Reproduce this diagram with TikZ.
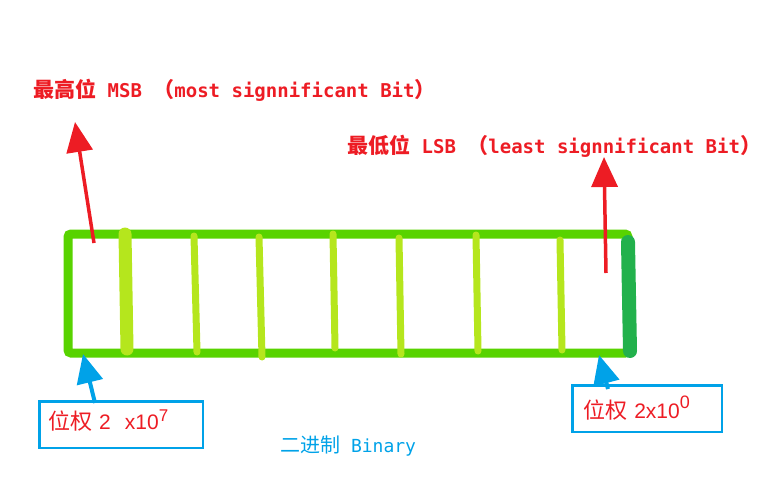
\documentclass[tikz,border=0pt]{standalone}
\usepackage{fontspec}
\setmonofont{DejaVu Sans Mono}
\newfontfamily\cjkfont{Noto Sans CJK SC}
\newfontfamily\numfont{Liberation Sans}
\usetikzlibrary{arrows.meta}
\definecolor{bargreen}{RGB}{88,211,0}
\definecolor{bitgreen}{RGB}{181,230,29}
\definecolor{lsbgreen}{RGB}{34,177,76}
\definecolor{markred}{RGB}{237,28,36}
\definecolor{markblue}{RGB}{0,162,232}

\begin{document}
\begin{tikzpicture}[x=1pt,y=-1pt]
        \tikzstyle{bar} = [draw=bargreen, line width=9pt, rounded corners=3pt]
        \tikzstyle{bit} = [draw=bitgreen, line width=7pt, line cap=round]
        \tikzstyle{bitlabel} = [text=markred, font=\ttfamily\bfseries\fontsize{19}{19}\selectfont, inner sep=0pt, anchor=base west]
        \tikzstyle{weightbox} = [draw=markblue, line width=2.5pt, minimum height=46.5pt, text=markred, font=\numfont\fontsize{21}{21}\selectfont, align=left, anchor=north west]
        \tikzstyle{redarrow} = [draw=markred, line width=3.5pt, -{Triangle[length=30pt,width=26pt]}]
        \tikzstyle{bluearrow} = [draw=markblue, line width=4pt, -{Triangle[length=29pt,width=26pt]}]

		\useasboundingbox (0,0) rectangle (782,487);

		\draw[bar] (68,234) rectangle (628,353);
		\draw[bit, line width=13pt] (125,234) -- (127,349);
		\draw[bit] (194,236) -- (197,352);
		\draw[bit] (259,237) -- (262,357);
		\draw[bit] (333,234) -- (335,348);
		\draw[bit] (399,238) -- (401,354);
		\draw[bit] (476,235) -- (478,351);
		\draw[bit] (560,240) -- (562,350);
		\draw[bit, draw=lsbgreen, line width=14pt] (628,242) -- (630,351);

		\node[bitlabel] (msb) at (33,97) {{\cjkfont\fontsize{21}{21}\selectfont 最高位} MSB {\cjkfont\fontsize{21}{21}\selectfont （}most signnificant Bit{\cjkfont\fontsize{21}{21}\selectfont ）}};
		\node[bitlabel] (lsb) at (347,153) {{\cjkfont\fontsize{21}{21}\selectfont 最低位} LSB {\cjkfont\fontsize{21}{21}\selectfont （}least signnificant Bit{\cjkfont\fontsize{21}{21}\selectfont ）}};

		\node[weightbox, minimum width=163.5pt, text width=146pt, inner xsep=8.75pt, text height=12pt, text depth=3pt] (msbweight) at (38.25,400.25) {{\cjkfont\fontsize{22}{22}\selectfont 位权} 2 \ x10\raisebox{8pt}{\fontsize{17}{17}\selectfont 7}};
		\node[weightbox, minimum width=149.5pt, text width=128pt, inner xsep=10.75pt, text height=21pt, text depth=2pt] (lsbweight) at (571.25,384.25) {{\cjkfont\fontsize{22}{22}\selectfont 位权} 2x10\raisebox{10pt}{\fontsize{18}{18}\selectfont 0}};

		\node[text=markblue, font=\ttfamily\fontsize{18}{18}\selectfont, inner sep=0pt, anchor=base west] (binary) at (280,452) {{\cjkfont\fontsize{20}{20}\selectfont 二进制} Binary};

		\coordinate (msbfoot) at (94,243);
		\coordinate (msbtip) at (75,122);
		\coordinate (lsbfoot) at (606,273);
		\coordinate (lsbtip) at (604,157);
		\coordinate (msbbase) at (83,354);
		\coordinate (lsbbase) at (599,355);

		\draw[redarrow] (msbfoot) -- (msbtip);
		\draw[redarrow] (lsbfoot) -- (lsbtip);
		\draw[bluearrow] (msbweight.north west) ++(56.75,2.75) -- (msbbase);
		\draw[bluearrow] (lsbweight.north west) ++(36.75,4.75) -- (lsbbase);

    \end{tikzpicture}
\end{document}
